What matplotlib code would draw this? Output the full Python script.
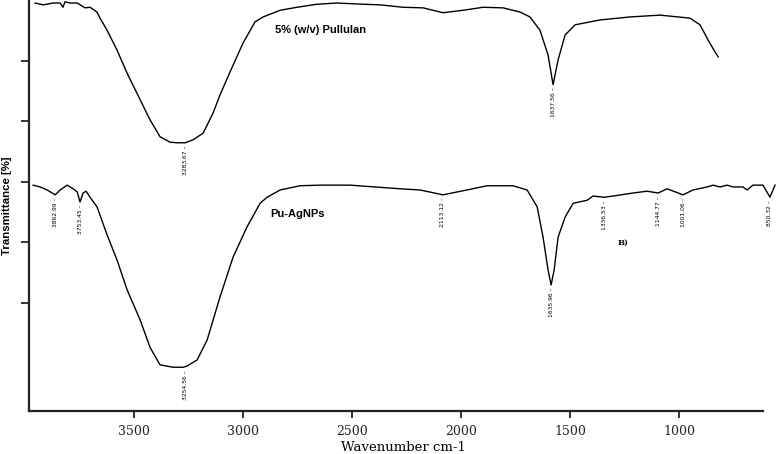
import matplotlib
matplotlib.use("Agg")
import matplotlib.pyplot as plt

# FTIR traces (wavenumber, transmittance in tick units)
pullulan_wn = [3954, 3917, 3872, 3839, 3826, 3817, 3794, 3761, 3725, 3702,
               3670, 3656, 3624, 3578, 3532, 3472, 3427, 3381, 3335, 3303,
               3266, 3229, 3183, 3138, 3106, 3060, 3000, 2945, 2908, 2830,
               2752, 2661, 2569, 2450, 2372, 2266, 2174, 2083, 1991, 1899,
               1807, 1729, 1684, 1638, 1601, 1578, 1555, 1523, 1477, 1363,
               1225, 1087, 950, 904, 867, 835, 821]
pullulan_t = [5.95, 5.92, 5.95, 5.95, 5.88, 5.97, 5.95, 5.95, 5.87, 5.88,
              5.80, 5.70, 5.50, 5.17, 4.79, 4.35, 4.02, 3.74, 3.65, 3.64,
              3.64, 3.69, 3.80, 4.13, 4.43, 4.81, 5.29, 5.64, 5.72, 5.83,
              5.88, 5.93, 5.95, 5.93, 5.92, 5.88, 5.87, 5.79, 5.83, 5.88,
              5.87, 5.80, 5.72, 5.50, 5.09, 4.60, 5.01, 5.42, 5.59, 5.67,
              5.72, 5.75, 5.70, 5.59, 5.34, 5.14, 5.06]

agnp_wn = [3963, 3931, 3899, 3862, 3839, 3807, 3784, 3761, 3748, 3734,
           3720, 3702, 3670, 3624, 3578, 3532, 3472, 3427, 3381, 3321,
           3275, 3257, 3211, 3165, 3106, 3046, 2982, 2922, 2890, 2830,
           2739, 2647, 2509, 2395, 2280, 2188, 2083, 1973, 1881, 1762,
           1697, 1651, 1624, 1601, 1587, 1573, 1555, 1523, 1486, 1422,
           1395, 1344, 1303, 1211, 1147, 1096, 1055, 982, 936, 872,
           844, 812, 780, 752, 707, 688, 661, 615, 583, 560]
agnp_t = [2.94, 2.91, 2.86, 2.78, 2.86, 2.94, 2.89, 2.83, 2.66, 2.81,
          2.84, 2.74, 2.58, 2.12, 1.70, 1.21, 0.71, 0.26, -0.03, -0.07,
          -0.07, -0.05, 0.05, 0.38, 1.09, 1.75, 2.25, 2.64, 2.74, 2.86,
          2.93, 2.94, 2.94, 2.91, 2.88, 2.86, 2.78, 2.86, 2.93, 2.93,
          2.86, 2.58, 2.08, 1.54, 1.29, 1.54, 2.08, 2.41, 2.64, 2.69,
          2.76, 2.74, 2.76, 2.81, 2.84, 2.81, 2.88, 2.78, 2.86, 2.91,
          2.94, 2.91, 2.94, 2.91, 2.91, 2.86, 2.94, 2.94, 2.74, 2.94]

peak_labels = ["3283.67", "1637.56",
               "3862.99", "3753.45", "3254.56", "2113.12", "1635.96",
               "1336.53", "1144.77", "1001.06", "850.32"]
peak_wn = [3266, 1578, 3862, 3748, 3266, 2083, 1587, 1344, 1096, 982, 583]
peak_t = [3.64, 4.60, 2.78, 2.66, -0.07, 2.78, 1.29, 2.74, 2.81, 2.78, 2.74]

x_ticks = [3500, 3000, 2500, 2000, 1500, 1000]
y_ticks = [1, 2, 3, 4, 5]

fig = plt.figure(figsize=(7.8, 4.54), dpi=100)
ax = fig.add_axes([0.0372, 0.0947, 0.9603, 0.9053])

ax.plot(pullulan_wn, pullulan_t, color="black", lw=1.0)
ax.plot(agnp_wn, agnp_t, color="black", lw=1.0)

for lab, w, t in zip(peak_labels, peak_wn, peak_t):
    ax.annotate(lab + " \u2013", xy=(w, t), xytext=(0, -2), textcoords="offset points",
                rotation=90, ha="center", va="top", fontsize=4.3,
                family="DejaVu Sans")

ax.text(2853, 5.50, "5% (w/v) Pullulan", fontsize=8, fontweight="bold",
        family="Liberation Sans", va="center")
ax.text(2876, 2.46, "Pu-AgNPs", fontsize=8, fontweight="bold",
        family="Liberation Sans", va="center")
ax.text(1280, 1.98, "B)", fontsize=6, fontweight="bold",
        family="DejaVu Serif", va="center")

ax.set_xlim(3982, 546)
ax.set_ylim(-0.793, 6.0)
ax.set_xticks(x_ticks)
ax.set_yticks(y_ticks)
ax.set_yticklabels([])
for s in ("top", "right"):
    ax.spines[s].set_visible(False)
for s in ("left", "bottom"):
    ax.spines[s].set_linewidth(1.6)
    ax.spines[s].set_color("#222222")
ax.spines["bottom"].set_bounds(3982, 615)
ax.tick_params(axis="x", direction="out", length=5, width=1.3, pad=5,
               labelsize=9, colors="#222222")
ax.tick_params(axis="y", direction="out", length=5.8, width=1.1)
for lbl in ax.get_xticklabels():
    lbl.set_family("DejaVu Serif")

ax.set_xlabel("Wavenumber cm-1", family="DejaVu Serif", fontsize=9.5, labelpad=2)
ax.set_ylabel("Transmittance [%]", family="Liberation Sans", fontsize=8.2,
              fontweight="bold")
ax.yaxis.set_label_coords(-0.023, 0.50)

fig.savefig("out.png", dpi=100)
